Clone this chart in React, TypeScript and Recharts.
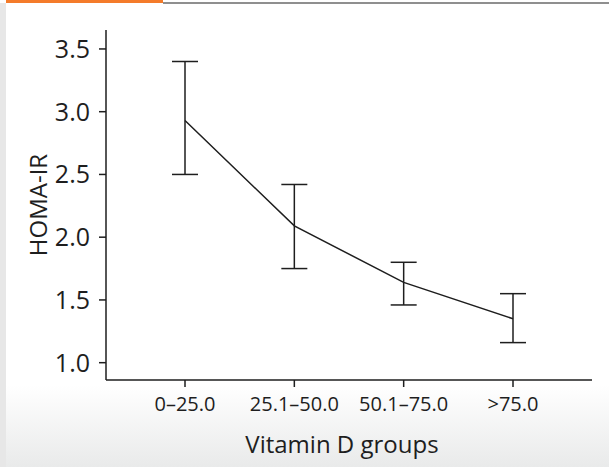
import React from 'react';
import { LineChart, Line, XAxis, YAxis, ErrorBar } from 'recharts';

// Vitamin D groups vs HOMA-IR (mean with error bars)
const groups = ['0–25.0', '25.1–50.0', '50.1–75.0', '>75.0'];
const meanValues = [2.93, 2.09, 1.64, 1.35];
const upperValues = [3.4, 2.42, 1.8, 1.55];
const lowerValues = [2.5, 1.75, 1.46, 1.16];
const yTicks = [1.0, 1.5, 2.0, 2.5, 3.0, 3.5];

const data = groups.map((g, i) => ({
  group: g,
  homa: meanValues[i],
  err: [meanValues[i] - lowerValues[i], upperValues[i] - meanValues[i]],
}));

const INK = '#1e1e1e';
const FONT = '"Open Sans", sans-serif';

const YTitle = () => (
  <text
    x={47}
    y={205}
    transform="rotate(-90 47 205)"
    textAnchor="middle"
    fontSize={24}
    fontFamily={FONT}
    fill={INK}
  >
    HOMA-IR
  </text>
);

export default function App() {
  return (
    <div style={{ position: 'absolute', left: 0, top: 0, width: 609, height: 467, overflow: 'hidden', background: '#fff' }}>
      {/* frame bits */}
      <div style={{ position: 'absolute', left: 0, top: 3, width: 6, height: 464, background: '#e7e7e7' }} />
      <div style={{ position: 'absolute', left: 6, top: 0, width: 157, height: 3, background: '#f47b2a' }} />
      <div style={{ position: 'absolute', left: 163, top: 2, width: 446, height: 2, background: '#8f8f8f' }} />
      <div
        style={{
          position: 'absolute',
          left: 6,
          top: 385,
          width: 603,
          height: 82,
          background: 'linear-gradient(to bottom, #ffffff, #e9eaea)',
        }}
      />
      <div style={{ position: 'absolute', left: 0, top: 0 }}>
        <LineChart width={609} height={467} data={data} margin={{ top: 30, right: 17, bottom: 0, left: 0 }}>
          <XAxis
            dataKey="group"
            height={87}
            padding={{ left: 79, right: 79 }}
            stroke={INK}
            strokeWidth={1.5}
            tickSize={7}
            tickMargin={10}
            tick={{ fill: INK, fontSize: 20, fontFamily: FONT }}
            label={{
              value: 'Vitamin D groups',
              position: 'insideBottom',
              offset: 14,
              dx: -7,
              fill: INK,
              fontSize: 24,
              fontFamily: FONT,
            }}
          />
          <YAxis
            width={106}
            domain={[0.862, 3.651]}
            ticks={yTicks}
            tickFormatter={(v: number) => v.toFixed(1)}
            stroke={INK}
            strokeWidth={1.5}
            tickSize={7}
            tickMargin={9}
            tick={{ fill: INK, fontSize: 25, fontFamily: FONT }}
            label={{ value: 'HOMA-IR', content: () => <YTitle /> }}
          />
          <Line
            type="linear"
            dataKey="homa"
            stroke={INK}
            strokeWidth={1.5}
            dot={false}
            activeDot={false}
            isAnimationActive={false}
          >
            <ErrorBar dataKey="err" width={13} stroke={INK} strokeWidth={1.5} isAnimationActive={false} />
          </Line>
        </LineChart>
      </div>
    </div>
  );
}
